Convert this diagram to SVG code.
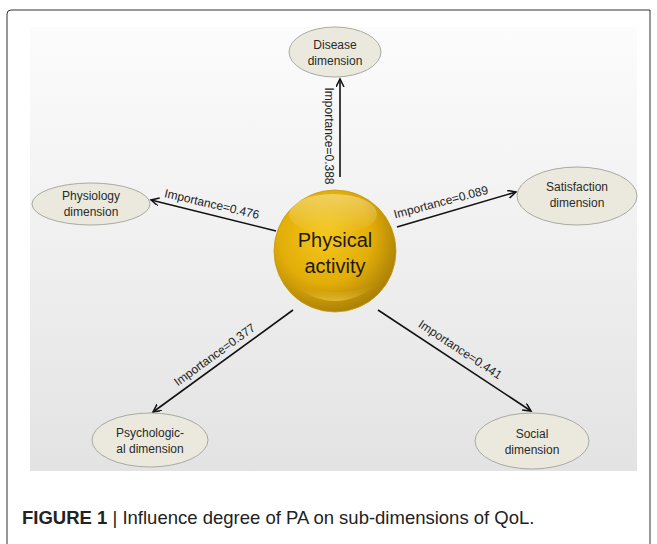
<svg xmlns="http://www.w3.org/2000/svg" width="657" height="544" viewBox="0 0 657 544">
<defs>
<linearGradient id="bg" x1="0" y1="0" x2="0" y2="1">
<stop offset="0" stop-color="#fcfcfc"/>
<stop offset="1" stop-color="#e3e3e3"/>
</linearGradient>
<radialGradient id="gold" cx="0.42" cy="0.38" r="0.7">
<stop offset="0" stop-color="#f5c81c"/>
<stop offset="0.55" stop-color="#e2ad08"/>
<stop offset="1" stop-color="#9c7407"/>
</radialGradient>
<linearGradient id="shine" x1="0" y1="0" x2="0" y2="1">
<stop offset="0" stop-color="#fff6c8" stop-opacity="0.9"/>
<stop offset="1" stop-color="#fff6c8" stop-opacity="0"/>
</linearGradient>
<linearGradient id="refl" x1="0" y1="0" x2="0" y2="1">
<stop offset="0" stop-color="#c89500" stop-opacity="0"/>
<stop offset="1" stop-color="#f7d85a" stop-opacity="0.8"/>
</linearGradient>
<marker id="arr" markerWidth="10" markerHeight="10" refX="8" refY="4" orient="auto" markerUnits="userSpaceOnUse">
<path d="M0,0 L8,4 L0,8" fill="none" stroke="#111" stroke-width="1.5"/>
</marker>
</defs>
<style>
.node ellipse{fill:#ebe9dd;stroke:#a9a9a4;stroke-width:1}
.nt{font-family:"Liberation Sans",Arial,sans-serif;font-size:12px;fill:#2a2a2a;text-anchor:middle}
.lbl{font-family:"Liberation Sans",Arial,sans-serif;font-size:12px;fill:#222;text-anchor:middle}
.edge{stroke:#111;stroke-width:1.6;fill:none;marker-end:url(#arr)}
.cap{font-family:"Liberation Sans",Arial,sans-serif;font-size:18.5px;fill:#222}
</style>
<rect width="657" height="544" fill="#fff"/>
<path d="M7,560 L7,14 Q7,10 11,10 L650,10 L650,560" fill="none" stroke="#333" stroke-width="1"/>
<rect x="30" y="27" width="607" height="444" fill="url(#bg)"/>

<g id="connectors">
<line class="edge" x1="340" y1="177" x2="340" y2="79"/>
<line class="edge" x1="276" y1="231" x2="151" y2="200"/>
<line class="edge" x1="397" y1="227" x2="516" y2="192"/>
<line class="edge" x1="293" y1="310" x2="153" y2="412"/>
<line class="edge" x1="378" y1="310" x2="531" y2="411"/>
<text class="lbl" transform="translate(325,136) rotate(90)">Importance=0.388</text>
<text class="lbl" transform="translate(211,208) rotate(13)">Importance=0.476</text>
<text class="lbl" transform="translate(442,206) rotate(-15)">Importance=0.089</text>
<text class="lbl" transform="translate(217,358) rotate(-36)">Importance=0.377</text>
<text class="lbl" transform="translate(458,353) rotate(33.5)">Importance=0.441</text>
</g>

<g id="physical-activity">
<circle cx="335" cy="251" r="61" fill="url(#gold)" stroke="#c49a10" stroke-width="0.8"/>
<ellipse cx="333" cy="214" rx="44" ry="20" fill="url(#shine)" opacity="0.5"/>
<path d="M292,284 Q335,318 378,284 Q335,300 292,284 Z" fill="url(#refl)" opacity="0.7"/>
<text x="335" y="247" font-family="Liberation Sans,Arial,sans-serif" font-size="20" fill="#1e1a10" text-anchor="middle">Physical</text>
<text x="335" y="273" font-family="Liberation Sans,Arial,sans-serif" font-size="20" fill="#1e1a10" text-anchor="middle">activity</text>
</g>

<g id="disease" class="node">
<ellipse cx="335" cy="52" rx="46" ry="25"/>
<text class="nt" x="335" y="49">Disease</text>
<text class="nt" x="335" y="65">dimension</text>
</g>
<g id="physiology" class="node">
<ellipse cx="91" cy="204" rx="59" ry="21"/>
<text class="nt" x="91" y="200">Physiology</text>
<text class="nt" x="91" y="216">dimension</text>
</g>
<g id="satisfaction" class="node">
<ellipse cx="577" cy="196" rx="60" ry="29"/>
<text class="nt" x="577" y="191">Satisfaction</text>
<text class="nt" x="577" y="207">dimension</text>
</g>
<g id="psychological" class="node">
<ellipse cx="150" cy="440" rx="58" ry="27"/>
<text class="nt" x="150" y="437">Psychologic-</text>
<text class="nt" x="150" y="453">al dimension</text>
</g>
<g id="social" class="node">
<ellipse cx="532" cy="441" rx="57" ry="28"/>
<text class="nt" x="532" y="438">Social</text>
<text class="nt" x="532" y="454">dimension</text>
</g>

<text class="cap" x="22" y="524"><tspan font-weight="bold">FIGURE 1</tspan> | Influence degree of PA on sub-dimensions of QoL.</text>
</svg>
